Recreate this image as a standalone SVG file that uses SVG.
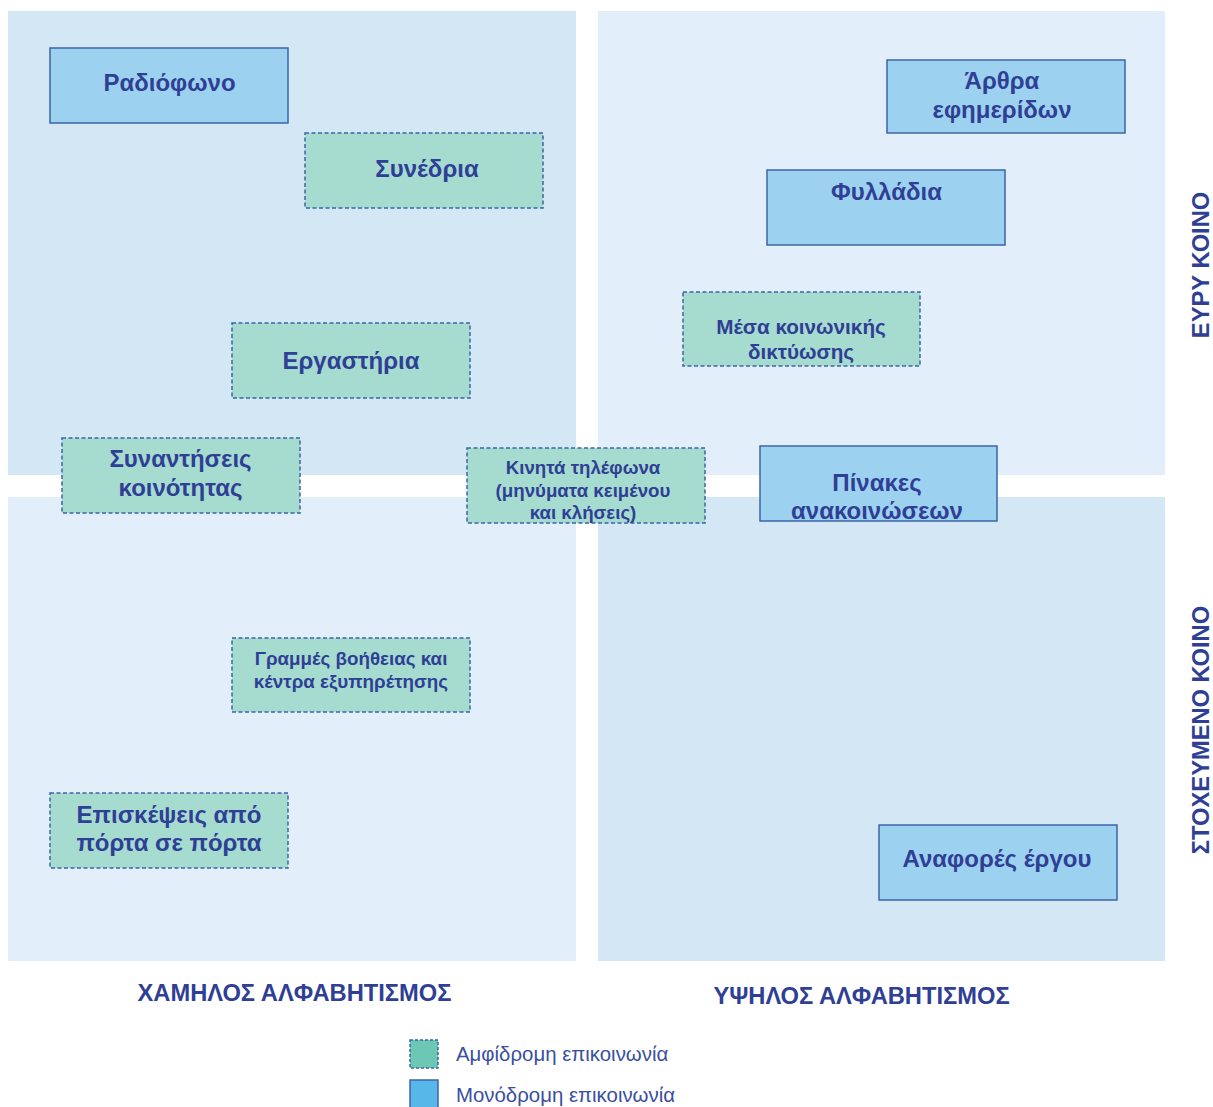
<svg xmlns="http://www.w3.org/2000/svg" width="1213" height="1107" viewBox="0 0 1213 1107">
<style>
.qd{fill:#d3e7f5}
.ql{fill:#e2eefa}
.one{fill:#9dd1f0;stroke:#3d65a8;stroke-width:1.5}
.two{fill:#a6dbcf;stroke:#3d65a8;stroke-width:1.5;stroke-dasharray:4 2.5}
.t{font-family:"Liberation Sans",Arial,sans-serif;font-weight:bold;fill:#2f3f95;text-anchor:middle}
.ax{font-family:"Liberation Sans",Arial,sans-serif;font-weight:bold;fill:#2f3f95;font-size:23.7px;text-anchor:middle}
.lg{font-family:"Liberation Sans",Arial,sans-serif;fill:#3a4fa0;font-size:20.4px}
</style>
<rect width="1213" height="1107" fill="#ffffff"/>
<g id="quadrants">
<rect class="qd" x="8" y="11" width="568" height="464"/>
<rect class="ql" x="598" y="11" width="567" height="464"/>
<rect class="ql" x="8" y="497" width="568" height="464"/>
<rect class="qd" x="598" y="497" width="567" height="464"/>
</g>
<g id="connectors"></g>
<g id="n-radio"><rect class="one" x="50" y="48" width="238" height="75"/><text class="t" x="169.5" y="91" font-size="24">Ραδιόφωνο</text></g>
<g id="n-synedria"><rect class="two" x="305" y="133" width="238" height="75"/><text class="t" x="427" y="177" font-size="24">Συνέδρια</text></g>
<g id="n-ergastiria"><rect class="two" x="232" y="323" width="238" height="75"/><text class="t" x="351" y="369" font-size="24">Εργαστήρια</text></g>
<g id="n-synantiseis"><rect class="two" x="62" y="438" width="238" height="75"/><text class="t" font-size="24"><tspan x="180.5" y="467">Συναντήσεις</tspan><tspan x="180.5" y="496">κοινότητας</tspan></text></g>
<g id="n-arthra"><rect class="one" x="887" y="60" width="238" height="73"/><text class="t" font-size="24"><tspan x="1002" y="89">Άρθρα</tspan><tspan x="1002" y="118">εφημερίδων</tspan></text></g>
<g id="n-fylladia"><rect class="one" x="767" y="170" width="238" height="75"/><text class="t" x="886.5" y="200" font-size="24">Φυλλάδια</text></g>
<g id="n-mesa"><rect class="two" x="683" y="292" width="237" height="74"/><text class="t" font-size="20.7"><tspan x="801" y="334">Μέσα κοινωνικής</tspan><tspan x="801" y="359">δικτύωσης</tspan></text></g>
<g id="n-kinita"><rect class="two" x="467" y="448" width="238" height="75"/><text class="t" font-size="18.7"><tspan x="583" y="474">Κινητά τηλέφωνα</tspan><tspan x="583" y="497">(μηνύματα κειμένου</tspan><tspan x="583" y="519">και κλήσεις)</tspan></text></g>
<g id="n-pinakes"><rect class="one" x="760" y="446" width="237" height="75"/><text class="t" font-size="24"><tspan x="877" y="491">Πίνακες</tspan><tspan x="877" y="519">ανακοινώσεων</tspan></text></g>
<g id="n-grammes"><rect class="two" x="232" y="638" width="238" height="74"/><text class="t" font-size="18.8"><tspan x="351" y="665">Γραμμές βοήθειας και</tspan><tspan x="351" y="688">κέντρα εξυπηρέτησης</tspan></text></g>
<g id="n-episkepseis"><rect class="two" x="50" y="793" width="238" height="75"/><text class="t" font-size="24"><tspan x="169" y="823">Επισκέψεις από</tspan><tspan x="169" y="851">πόρτα σε πόρτα</tspan></text></g>
<g id="n-anafores"><rect class="one" x="879" y="825" width="238" height="75"/><text class="t" x="997" y="867" font-size="24">Αναφορές έργου</text></g>
<g id="axes">
<text class="ax" x="294.5" y="1001">ΧΑΜΗΛΟΣ ΑΛΦΑΒΗΤΙΣΜΟΣ</text>
<text class="ax" x="861.5" y="1004">ΥΨΗΛΟΣ ΑΛΦΑΒΗΤΙΣΜΟΣ</text>
<text class="ax" transform="translate(1209,265) rotate(-90)">ΕΥΡΥ ΚΟΙΝΟ</text>
<text class="ax" transform="translate(1209,730) rotate(-90)">ΣΤΟΧΕΥΜΕΝΟ ΚΟΙΝΟ</text>
</g>
<g id="legend">
<rect x="410" y="1040" width="28" height="28" fill="#6cc8b4" stroke="#3d65a8" stroke-width="1.5" stroke-dasharray="3 2"/>
<text class="lg" x="456" y="1061">Αμφίδρομη επικοινωνία</text>
<rect x="410" y="1080" width="28" height="28" fill="#56b7e8" stroke="#3d65a8" stroke-width="1.5"/>
<text class="lg" x="456" y="1102">Μονόδρομη επικοινωνία</text>
</g>
</svg>
